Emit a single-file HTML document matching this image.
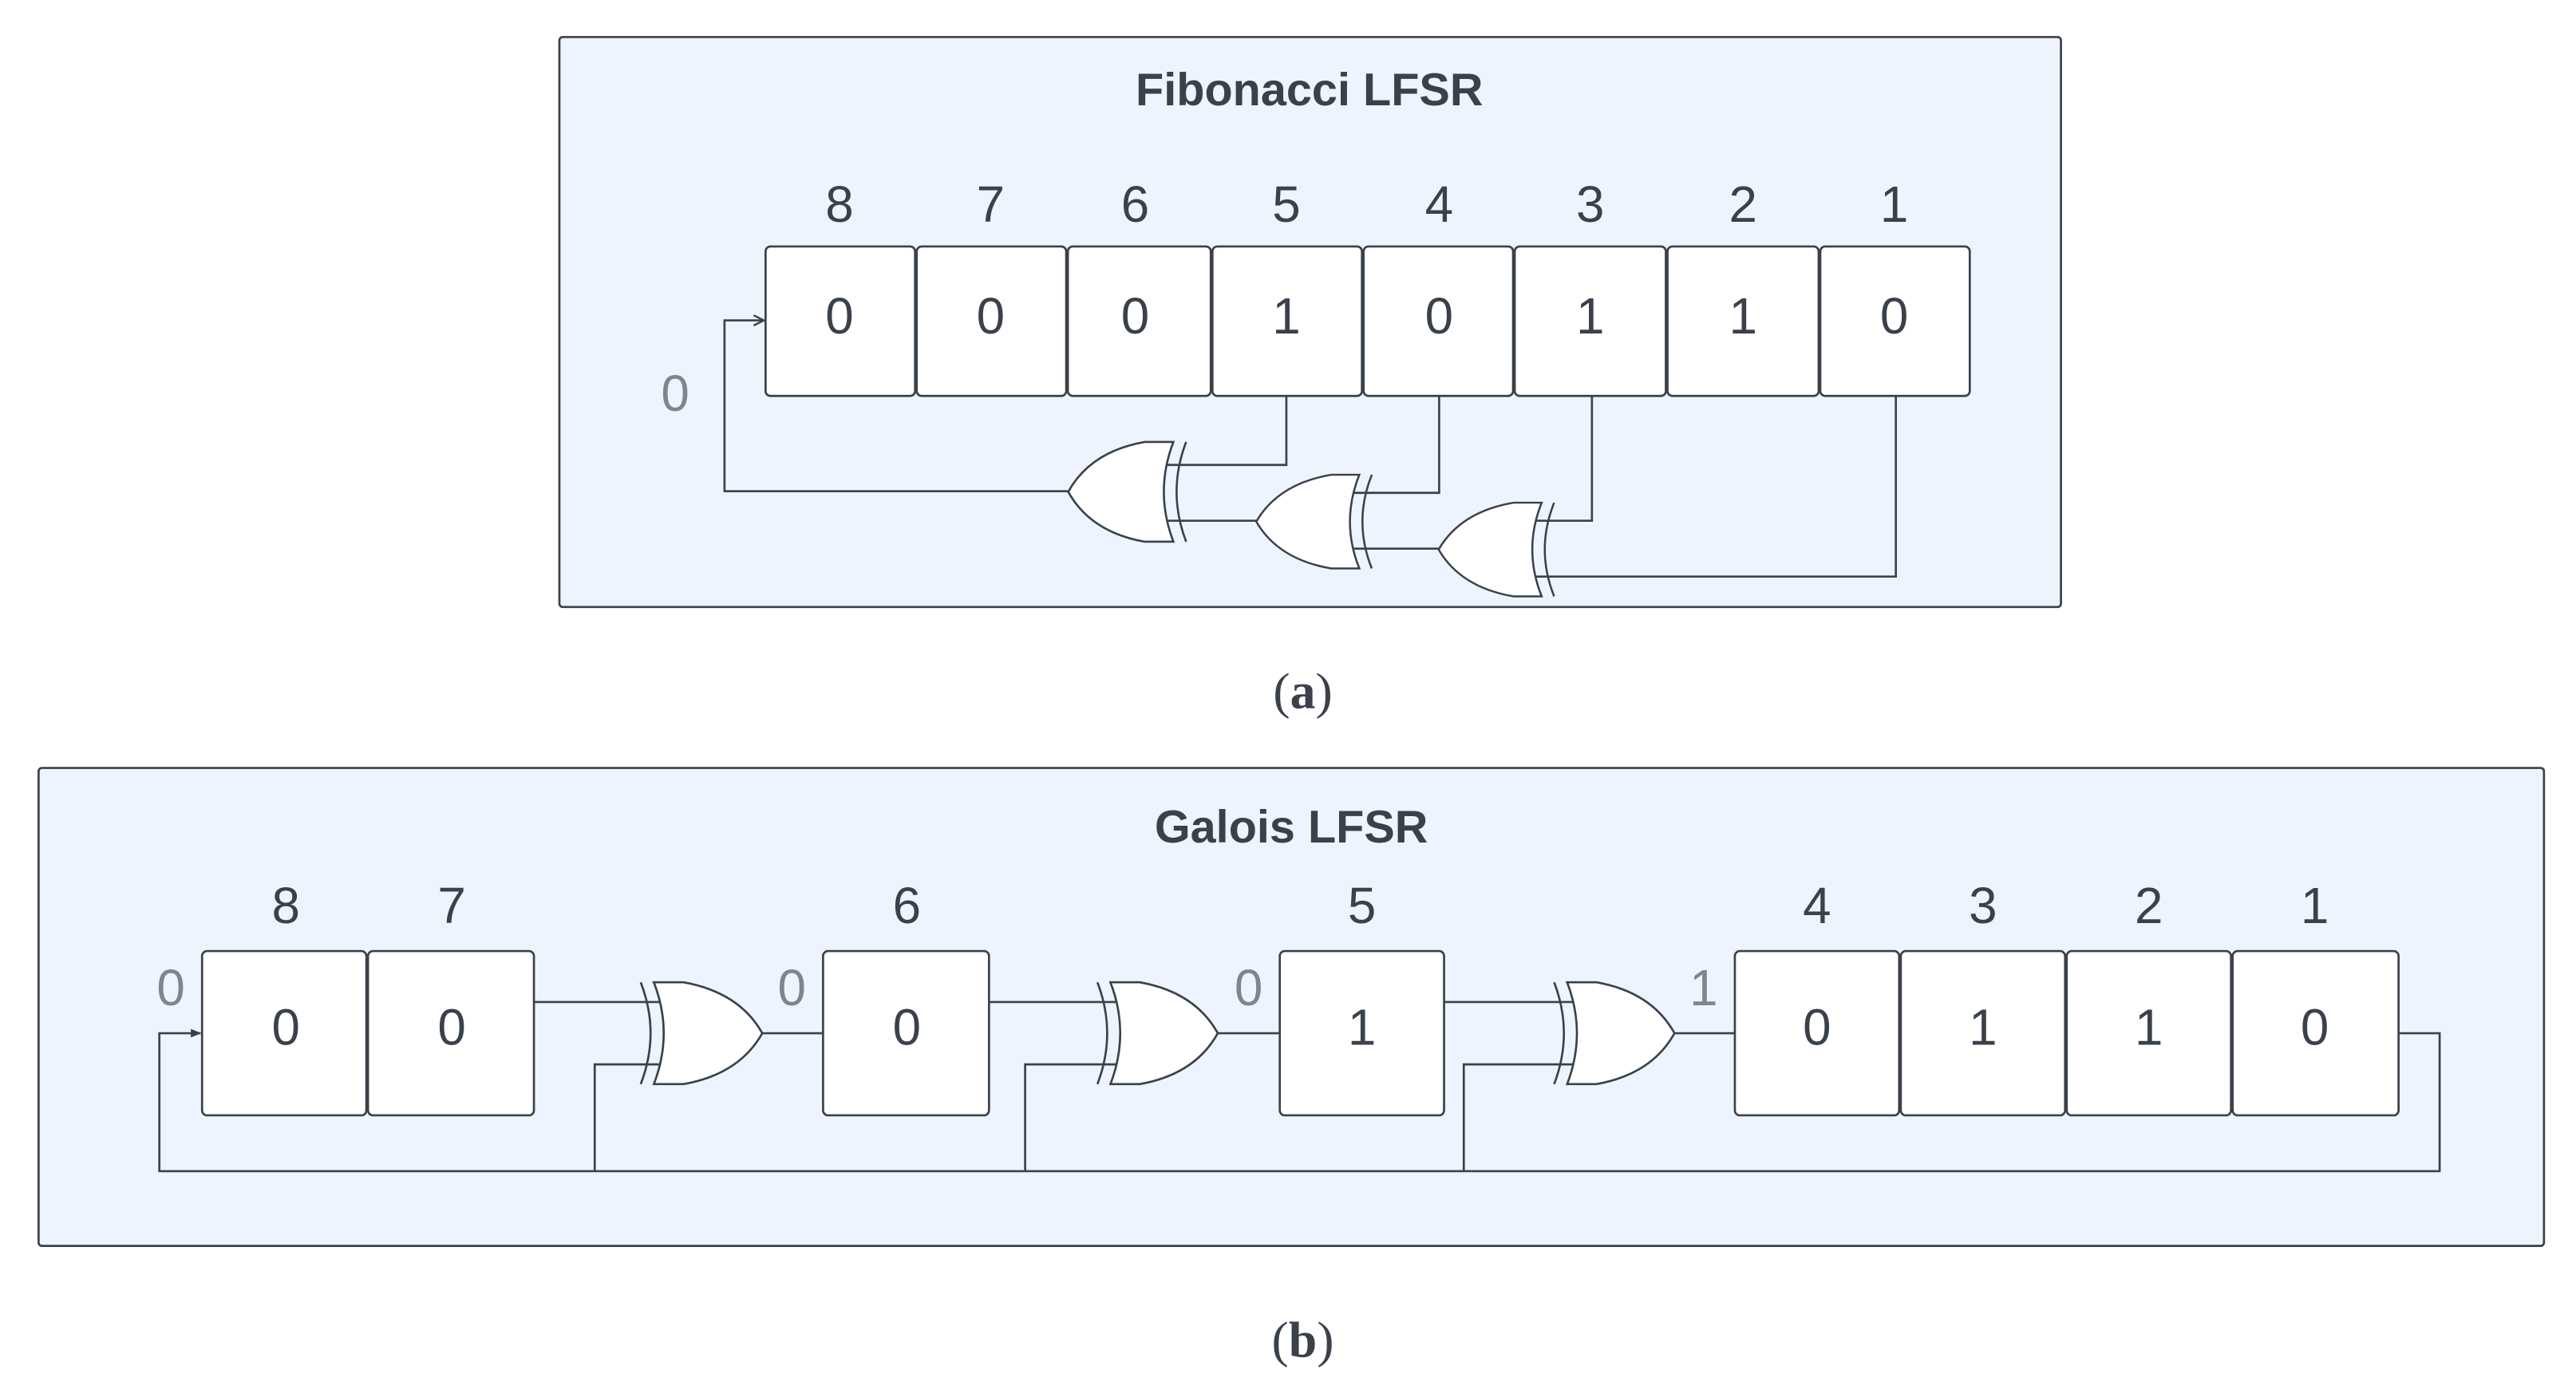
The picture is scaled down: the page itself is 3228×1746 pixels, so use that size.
<!DOCTYPE html>
<html><head><meta charset="utf-8"><style>
html,body{margin:0;padding:0;background:#fff}
svg{display:block}
text{font-family:"Liberation Sans",sans-serif;fill:#3a414a}
</style></head><body>
<svg width="3228" height="1746" viewBox="0 0 1568 848" xmlns="http://www.w3.org/2000/svg">
<defs>
<g id="xor">
<path d="M0,0 Q12,31 0,62" fill="none" stroke="#3a414a" stroke-width="1.3"/>
<path d="M8,0 L26,0 Q60,6 74,31 Q60,56 26,62 L8,62 Q20,31 8,0 Z" fill="#fff" stroke="#3a414a" stroke-width="1.3"/>
</g>
<marker id="ar" viewBox="0 0 10 10" refX="9" refY="5" markerWidth="6" markerHeight="6" orient="auto"><path d="M1,1 L9,5 L1,9" fill="none" stroke="#3a414a" stroke-width="1.5"/></marker>
<marker id="ar2" viewBox="0 0 10 10" refX="9" refY="5" markerWidth="5" markerHeight="5" orient="auto"><path d="M0,1 L10,5 L0,9 Z" fill="#3a414a"/></marker>
</defs>

<!-- Panel a -->
<rect x="340.5" y="22.5" width="914" height="347" fill="#edf4fe" stroke="#3a414a" stroke-width="1.3" rx="2"/>
<text x="797" y="64" font-size="28" font-weight="bold" text-anchor="middle">Fibonacci LFSR</text>
<g font-size="31" text-anchor="middle">
<text x="511" y="135">8</text><text x="603" y="135">7</text><text x="691" y="135">6</text><text x="783" y="135">5</text><text x="876" y="135">4</text><text x="968" y="135">3</text><text x="1061" y="135">2</text><text x="1153" y="135">1</text>
</g>
<g fill="#fff" stroke="#3a414a" stroke-width="1.3">
<rect x="466" y="150" width="91" height="91" rx="3"/><rect x="558" y="150" width="91" height="91" rx="3"/><rect x="650" y="150" width="87" height="91" rx="3"/><rect x="738" y="150" width="91" height="91" rx="3"/><rect x="830" y="150" width="91" height="91" rx="3"/><rect x="922" y="150" width="92" height="91" rx="3"/><rect x="1015" y="150" width="92" height="91" rx="3"/><rect x="1108" y="150" width="91" height="91" rx="3"/>
</g>
<g font-size="31" text-anchor="middle">
<text x="511" y="203">0</text><text x="603" y="203">0</text><text x="691" y="203">0</text><text x="783" y="203">1</text><text x="876" y="203">0</text><text x="968" y="203">1</text><text x="1061" y="203">1</text><text x="1153" y="203">0</text>
</g>
<text x="411" y="250" font-size="31" text-anchor="middle" style="fill:#7b8593">0</text>
<g fill="none" stroke="#3a414a" stroke-width="1.3">
<path d="M650,299 L441,299 L441,195 L465,195" marker-end="url(#ar)"/>
<path d="M783,241 L783,283 L708,283"/>
<path d="M876,241 L876,300 L822,300"/>
<path d="M969,241 L969,317 L934,317"/>
<path d="M1154,241 L1154,351 L934,351"/>
<path d="M765,317 L708,317"/>
<path d="M877,334 L822,334"/>
</g>
<use href="#xor" transform="translate(722,269) scale(-0.97,0.98)"/>
<use href="#xor" transform="translate(835,289) scale(-0.95,0.92)"/>
<use href="#xor" transform="translate(946,306) scale(-0.95,0.92)"/>

<text x="793" y="431" font-size="31" text-anchor="middle" style="font-family:'Liberation Serif',serif">(<tspan font-weight="bold" style="font-family:'Liberation Serif',serif">a</tspan>)</text>

<!-- Panel b -->
<rect x="23.5" y="467.5" width="1525" height="291" fill="#edf4fe" stroke="#3a414a" stroke-width="1.3" rx="2"/>
<text x="786" y="513" font-size="28" font-weight="bold" text-anchor="middle">Galois LFSR</text>
<g font-size="31" text-anchor="middle">
<text x="174" y="562">8</text><text x="275" y="562">7</text><text x="552" y="562">6</text><text x="829" y="562">5</text><text x="1106" y="562">4</text><text x="1207" y="562">3</text><text x="1308" y="562">2</text><text x="1409" y="562">1</text>
</g>
<g fill="none" stroke="#3a414a" stroke-width="1.3">
<path d="M1460,629 L1485,629 L1485,713 L97,713 L97,629 L122,629" marker-end="url(#ar2)"/>
<path d="M325,610 L402,610"/><path d="M362,713 L362,648 L402,648"/>
<path d="M602,610 L680,610"/><path d="M624,713 L624,648 L680,648"/>
<path d="M879,610 L958,610"/><path d="M891,713 L891,648 L958,648"/>
<path d="M464,629 L501,629"/><path d="M741,629 L779,629"/><path d="M1019,629 L1056,629"/>
</g>
<use href="#xor" transform="translate(390,598)"/>
<use href="#xor" transform="translate(668,598) scale(0.99,1)"/>
<use href="#xor" transform="translate(946,598) scale(0.99,1)"/>
<g fill="#fff" stroke="#3a414a" stroke-width="1.3">
<rect x="123" y="579" width="100" height="100" rx="3"/><rect x="224" y="579" width="101" height="100" rx="3"/>
<rect x="501" y="579" width="101" height="100" rx="3"/>
<rect x="779" y="579" width="100" height="100" rx="3"/>
<rect x="1056" y="579" width="100" height="100" rx="3"/><rect x="1157" y="579" width="100" height="100" rx="3"/><rect x="1258" y="579" width="100" height="100" rx="3"/><rect x="1359" y="579" width="101" height="100" rx="3"/>
</g>
<g font-size="31" text-anchor="middle">
<text x="174" y="636">0</text><text x="275" y="636">0</text><text x="552" y="636">0</text><text x="829" y="636">1</text><text x="1106" y="636">0</text><text x="1207" y="636">1</text><text x="1308" y="636">1</text><text x="1409" y="636">0</text>
</g>
<g font-size="31" text-anchor="middle" style="fill:#7b8593">
<text x="104" y="612" style="fill:#7b8593">0</text><text x="482" y="612" style="fill:#7b8593">0</text><text x="760" y="612" style="fill:#7b8593">0</text><text x="1037" y="612" style="fill:#7b8593">1</text>
</g>
<text x="793" y="826" font-size="31" text-anchor="middle" style="font-family:'Liberation Serif',serif">(<tspan font-weight="bold" style="font-family:'Liberation Serif',serif">b</tspan>)</text>
</svg>
</body></html>
